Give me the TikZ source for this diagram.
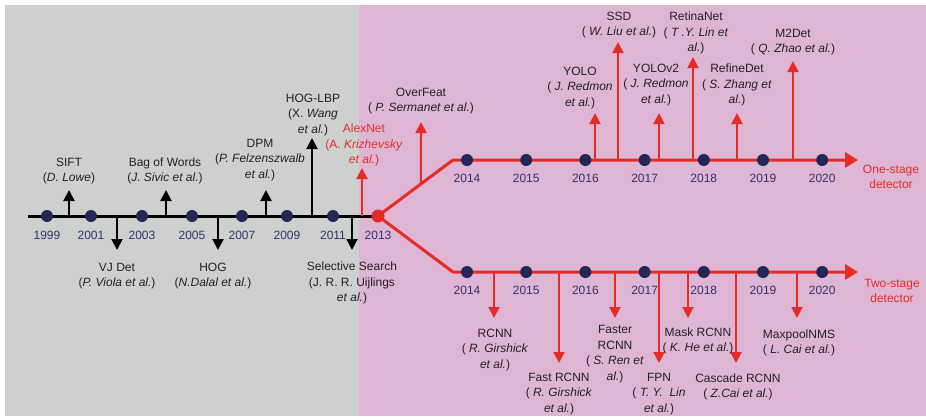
\documentclass[tikz,border=0pt]{standalone}
\usepackage{fontspec}
\setmainfont{Liberation Sans}
\usepackage{tikz}
\usetikzlibrary{calc,arrows.meta}
\definecolor{bggray}{RGB}{206,208,206}
\definecolor{bgpink}{RGB}{223,181,212}
\definecolor{navy}{RGB}{36,38,88}
\definecolor{yearblue}{RGB}{48,52,112}
\definecolor{tred}{RGB}{228,44,38}
\definecolor{txt}{RGB}{34,34,34}

\begin{document}
\begin{tikzpicture}[x=1pt, y=-1pt, font=\fontsize{12}{15.6}\selectfont,
  >={Triangle[length=11pt, width=11pt]},
  dot/.style={circle, fill=navy, inner sep=0pt, minimum size=12pt},
  year/.style={text=yearblue, inner sep=0pt},
  lab/.style={align=center, text=txt, inner sep=0pt},
  old/.style={draw=black, line width=2pt},
  new/.style={draw=tred, line width=2pt},
  axis/.style={line width=3pt, line join=round},
  bigtip/.style={-{Triangle[length=13pt, width=15pt]}}]

  \useasboundingbox (0,0) rectangle (926,416);
  \fill[white] (0,0) rectangle (926,416);
  \fill[bggray] (5,5) rectangle (359,416);
  \fill[bgpink] (359,5) rectangle (926,416);

  % time axes
  \coordinate (start) at (28,216);
  \coordinate (fork) at (378,216);
  \coordinate (upbend) at (453,160);
  \coordinate (upend) at (858,160);
  \coordinate (lowbend) at (453,272);
  \coordinate (lowend) at (858,272);
  \draw[old, axis] (start) -- (fork);
  \draw[new, axis, bigtip] (fork) -- (upbend) -- (upend);
  \draw[new, axis, bigtip] (fork) -- (lowbend) -- (lowend);

  % arrow tips
  \coordinate (a-sift) at (69,190);
  \coordinate (a-bow) at (166,190);
  \coordinate (a-dpm) at (266,190);
  \coordinate (a-hoglbp) at (312,138);
  \coordinate (a-alexnet) at (362,168);
  \coordinate (a-vj) at (117,250);
  \coordinate (a-hog) at (218,250);
  \coordinate (a-selsearch) at (352,250);
  \coordinate (a-overfeat) at (421,122);
  \coordinate (a-yolo) at (595,113);
  \coordinate (a-ssd) at (618,42);
  \coordinate (a-yolov2) at (659,113);
  \coordinate (a-retina) at (693,57);
  \coordinate (a-refine) at (737,113);
  \coordinate (a-mtwodet) at (793,61);
  \coordinate (a-rcnn) at (494,318);
  \coordinate (a-fastrcnn) at (559,363);
  \coordinate (a-fasterrcnn) at (615,318);
  \coordinate (a-fpn) at (659,363);
  \coordinate (a-maskrcnn) at (688,318);
  \coordinate (a-cascade) at (736,363);
  \coordinate (a-maxpool) at (797,318);

  \foreach \t in {sift,bow,dpm,hoglbp,vj,hog,selsearch}
    \draw[old, ->] (a-\t |- start) -- (a-\t);
  \draw[new, ->] (a-alexnet |- start) -- (a-alexnet);
  \draw[new, ->] ($(fork)!0.573!(upbend)$) -- (a-overfeat);
  \foreach \t in {yolo,ssd,yolov2,retina,refine,mtwodet}
    \draw[new, ->] (a-\t |- upbend) -- (a-\t);
  \foreach \t in {rcnn,fastrcnn,fasterrcnn,fpn,maskrcnn,cascade,maxpool}
    \draw[new, ->] (a-\t |- lowbend) -- (a-\t);

  % years
  \foreach \yr/\x in {1999/47,2001/91,2003/142,2005/192,2007/242,2009/287,2011/333}{
    \node[dot] (y\yr) at (\x,216) {};
    \node[year] at (\x,235) {\yr};
  }
  \node[circle, fill=tred, inner sep=0pt, minimum size=13pt] (y2013) at (fork) {};
  \node[year] at (378,235) {2013};
  \foreach \yr [count=\i from 0] in {2014,...,2020}{
    \node[dot] (o\yr) at (467+59.2*\i,160) {};
    \node[dot] (t\yr) at (467+59.2*\i,272) {};
    \node[year] at (467+59.2*\i,178) {\yr};
    \node[year] at (467+59.2*\i,290) {\yr};
  }

  % detectors
  \node[lab] (sift) at (69,171) {SIFT\\(\textit{D. Lowe})};
  \node[lab] (bow) at (165,171) {Bag of Words\\(\textit{J. Sivic et al.})};
  \node[lab] (dpm) at (260,160) {DPM\\(\textit{P. Felzenszwalb}\\\textit{et al.})};
  \node[lab] (hoglbp) at (313,115) {HOG-LBP\\(X. \textit{Wang}\\\textit{et al.})};
  \node[lab, text=tred] (alexnet) at (364,145) {AlexNet\\(A. \textit{Krizhevsky}\\\textit{et al.})};
  \node[lab] (vj) at (117,276) {VJ Det\\(\textit{P. Viola et al.})};
  \node[lab] (hog) at (213,276) {HOG\\(\textit{N.Dalal et al.})};
  \node[lab] (selsearch) at (352,283) {Selective Search\\(J. R. R. Uijlings\\\textit{et al.})};
  \node[lab] (overfeat) at (421,101) {OverFeat\\( \textit{P. Sermanet et al.})};
  \node[lab] (yolo) at (580,88) {YOLO\\( \textit{J. Redmon}\\\textit{et al.})};
  \node[lab] (ssd) at (619,25) {SSD\\( \textit{W. Liu et al.})};
  \node[lab] (yolov2) at (656,85) {YOLOv2\\( \textit{J. Redmon}\\\textit{et al.})};
  \node[lab] (retina) at (696,33) {RetinaNet\\( \textit{T .Y. Lin et}\\\textit{al.})};
  \node[lab] (refine) at (737,85) {RefineDet\\( \textit{S. Zhang et}\\\textit{al.})};
  \node[lab] (mtwodet) at (793,42) {M2Det\\( \textit{Q. Zhao et al.})};
  \node[lab] (rcnn) at (495,350) {RCNN\\( \textit{R. Girshick}\\\textit{et al.})};
  \node[lab] (fastrcnn) at (559,394) {Fast RCNN\\( \textit{R. Girshick}\\\textit{et al.})};
  \node[lab] (fasterrcnn) at (615,354) {Faster\\RCNN\\( \textit{S. Ren et}\\\textit{al.})};
  \node[lab] (fpn) at (659,394) {FPN\\( \textit{T. Y.~~Lin}\\\textit{et al.})};
  \node[lab] (maskrcnn) at (698,341) {Mask RCNN\\( \textit{K. He et al.})};
  \node[lab] (cascade) at (738,387) {Cascade RCNN\\( \textit{Z.Cai et al.})};
  \node[lab] (maxpool) at (799,343) {MaxpoolNMS\\( \textit{L. Cai et al.})};
  \node[lab, text=tred] (onestage) at (891,177) {One-stage\\detector};
  \node[lab, text=tred] (twostage) at (892,291) {Two-stage\\detector};
\end{tikzpicture}
\end{document}
